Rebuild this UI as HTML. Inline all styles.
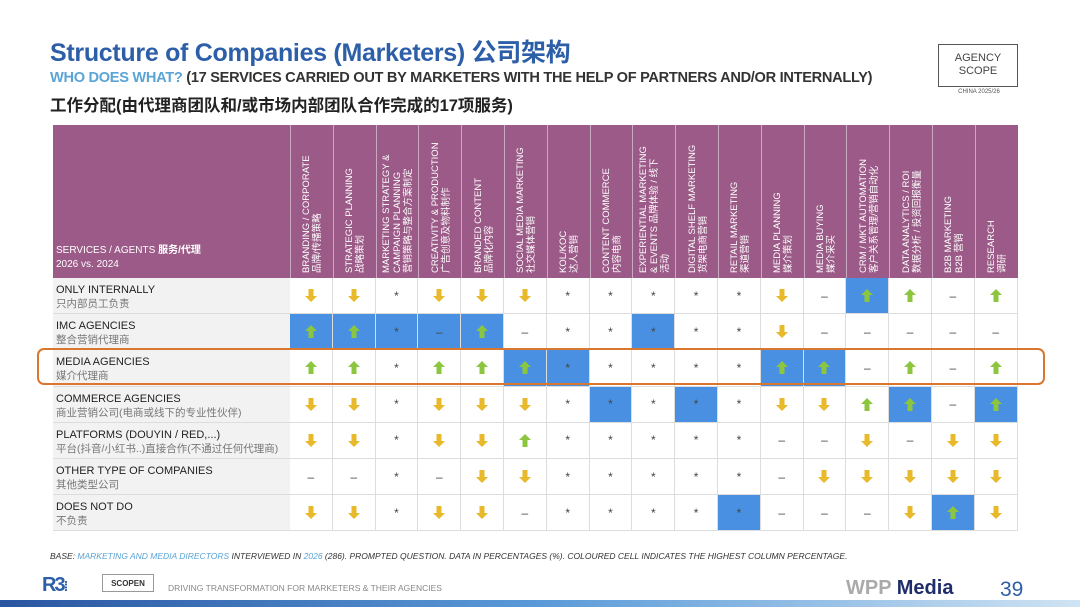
<!DOCTYPE html>
<html><head><meta charset="utf-8">
<style>
body{margin:0;width:1080px;height:607px;background:#fff;position:relative;overflow:hidden;font-family:"Liberation Sans","Noto Sans CJK SC",sans-serif;}
.abs{position:absolute;}
#title{left:50px;top:33px;font-size:25px;font-weight:bold;color:#2d5ea8;letter-spacing:-0.3px;}
#sub1{left:50px;top:70px;font-size:14.6px;font-weight:bold;color:#333;letter-spacing:-0.3px;white-space:nowrap}
#sub1 span{color:#5aa4d6}
#sub2{left:50px;top:92px;font-size:16.5px;font-weight:bold;color:#222;white-space:nowrap}
#logo{left:938px;top:44px;width:80px;height:43px;border:1.5px solid #555;font-size:11px;text-align:center;line-height:13px;color:#444;box-sizing:border-box;padding-top:7px}
#logo2{left:938px;top:89px;width:82px;text-align:center;font-size:6px;color:#555}
.hdr{background:#9b5a87;color:#fff;box-sizing:border-box;}
.vt{position:absolute;transform-origin:0 0;transform:rotate(-90deg);font-size:9.5px;line-height:11px;white-space:pre;width:145px;}
.cell{position:absolute;box-sizing:border-box;border-right:1px solid #ddd;border-bottom:1px solid #ddd;display:flex;align-items:center;justify-content:center;color:#444;font-size:12px;}
.rl{position:absolute;left:53px;width:237px;background:#f2f2f2;border-bottom:1px solid #ddd;box-sizing:border-box;padding:5px 0 0 3px;font-size:11px;color:#222;line-height:14px}
.rl i{font-style:normal;color:#777;display:block;font-size:10.5px}
</style></head><body>
<div id="title" class="abs">Structure of Companies (Marketers) 公司架构</div>
<div id="sub1" class="abs"><span>WHO DOES WHAT?</span> (17 SERVICES CARRIED OUT BY MARKETERS WITH THE HELP OF PARTNERS AND/OR INTERNALLY)</div>
<div id="sub2" class="abs">工作分配(由代理商团队和/或市场内部团队合作完成的17项服务)</div>
<div id="logo" class="abs">AGENCY<br>SCOPE</div>
<div id="logo2" class="abs">CHINA 2025/26</div>

<div id="table"></div>

<div class="abs" style="left:37px;top:348px;width:1008px;height:37px;border:2.5px solid #d9772f;border-radius:7px;box-sizing:border-box"></div>

<div class="abs" style="left:50px;top:551px;font-size:8.5px;font-style:italic;color:#333">BASE: <span style="color:#5aa4d6">MARKETING AND MEDIA DIRECTORS</span> INTERVIEWED IN <span style="color:#5aa4d6">2026</span> (286). PROMPTED QUESTION. DATA IN PERCENTAGES (%). COLOURED CELL INDICATES THE HIGHEST COLUMN PERCENTAGE.</div>
<div class="abs" style="left:42px;top:574px;font-size:20px;font-weight:bold;color:#2d5ea8;letter-spacing:-2px">R3<span style="font-size:14px;color:#2d5ea8">⁞</span></div>
<div class="abs" style="left:102px;top:574px;width:52px;height:18px;border:1px solid #999;font-size:8px;font-weight:bold;text-align:center;line-height:18px;color:#333;box-sizing:border-box">SCOPEN</div>
<div class="abs" style="left:168px;top:583px;font-size:8.5px;color:#888">DRIVING TRANSFORMATION FOR MARKETERS &amp; THEIR AGENCIES</div>
<div class="abs" style="left:846px;top:577px;font-size:20px;font-weight:bold;color:#1f2d6b"><span style="color:#aaa">WPP</span> Media</div>
<div class="abs" style="left:1000px;top:578px;font-size:21px;color:#2d5ea8">39</div>
<div class="abs" style="left:0;top:600px;width:1080px;height:7px;background:linear-gradient(90deg,#2a55a0,#5a9ad8,#cfe3f3)"></div>

<script>
const services=[["BRANDING / CORPORATE","品牌/传播策略"],["STRATEGIC PLANNING","战略策划"],["MARKETING STRATEGY &\nCAMPAIGN PLANNING","营销策略与整合方案制定"],["CREATIVITY & PRODUCTION","广告创意及物料制作"],["BRANDED CONTENT","品牌化内容"],["SOCIAL MEDIA MARKETING","社交媒体营销"],["KOL/KOC","达人营销"],["CONTENT COMMERCE","内容电商"],["EXPERIENTIAL MARKETING\n& EVENTS 品牌体验 / 线下","活动"],["DIGITAL SHELF MARKETING","货架电商营销"],["RETAIL MARKETING","渠道营销"],["MEDIA PLANNING","媒介策划"],["MEDIA BUYING","媒介采买"],["CRM / MKT AUTOMATION","客户关系管理/营销自动化"],["DATA ANALYTICS / ROI","数据分析 / 投资回报衡量"],["B2B MARKETING","B2B 营销"],["RESEARCH","调研"]];
const agents=[["ONLY INTERNALLY","只内部员工负责"],["IMC AGENCIES","整合营销代理商"],["MEDIA AGENCIES","媒介代理商"],["COMMERCE AGENCIES","商业营销公司(电商或线下的专业性伙伴)"],["PLATFORMS (DOUYIN / RED,...)","平台(抖音/小红书..)直接合作(不通过任何代理商)"],["OTHER TYPE OF COMPANIES","其他类型公司"],["DOES NOT DO","不负责"]];
// d=down u=up s=star n=dash; uppercase = highest column (blue)
const trends=[
"d d s d d d s s s s s d n U u n u",
"U U S N U n s s S s s d n n n n n",
"u u s u u U S s s s s U U n u n u",
"d d s d d d s S s S s d d u U n U",
"d d s d d u s s s s s n n d n d d",
"n n s n d d s s s s s n d d d d d",
"d d s d d n s s s s S n n n d U d"];
const T=document.getElementById('table');
const X0=53,LW=237,CX=290,CW=42.8,HY=125,HH=153,RH=36.2;
function add(html,style,name,cls){const d=document.createElement('div');d.className=cls||'abs';d.style.cssText=style;d.innerHTML=html;


T.appendChild(d);return d;}
add('<div style="position:absolute;left:3px;bottom:6px;font-size:10px;line-height:14px">SERVICES / AGENTS <b>服务/代理</b><br>2026 vs. 2024</div>',`left:${X0}px;top:${HY}px;width:${LW}px;height:${HH}px;`,'header-corner','abs hdr');
services.forEach((s,i)=>{
 const lines=(s[0]+'\n'+s[1]).split('\n').length;
 const h=lines*11;
 add('<div class="vt" style="left:'+((CW-h)/2)+'px;top:'+(HH-5)+'px">'+s[0]+'\n'+s[1]+'</div>',`left:${CX+i*CW}px;top:${HY}px;width:${CW}px;height:${HH}px;border-left:1px solid #c9a9c0;`,'column-header','abs hdr');
});
const up='<svg width="12" height="13" viewBox="0 0 12 13"><path d="M6 0L12 6H8.5V13H3.5V6H0Z" fill="#8cc63f"/></svg>';
const dn='<svg width="12" height="13" viewBox="0 0 12 13"><path d="M6 13L12 7H8.5V0H3.5V7H0Z" fill="#e8b92a"/></svg>';
agents.forEach((a,r)=>{
 const y=HY+HH+r*RH;
 add(a[0]+'<i>'+a[1]+'</i>',`top:${y}px;height:${RH}px;`,'row-label','rl');
 trends[r].split(' ').forEach((c,i)=>{
  const hi=c===c.toUpperCase();const k=c.toLowerCase();
  const g=k=='u'?up:k=='d'?dn:k=='s'?'*':'–';
  add(g,`left:${CX+i*CW}px;top:${y}px;width:${CW}px;height:${RH}px;background:${hi?'#4a90e2':'#fff'};`,'trend-cell','cell');
 });
});
</script>
</body></html>
